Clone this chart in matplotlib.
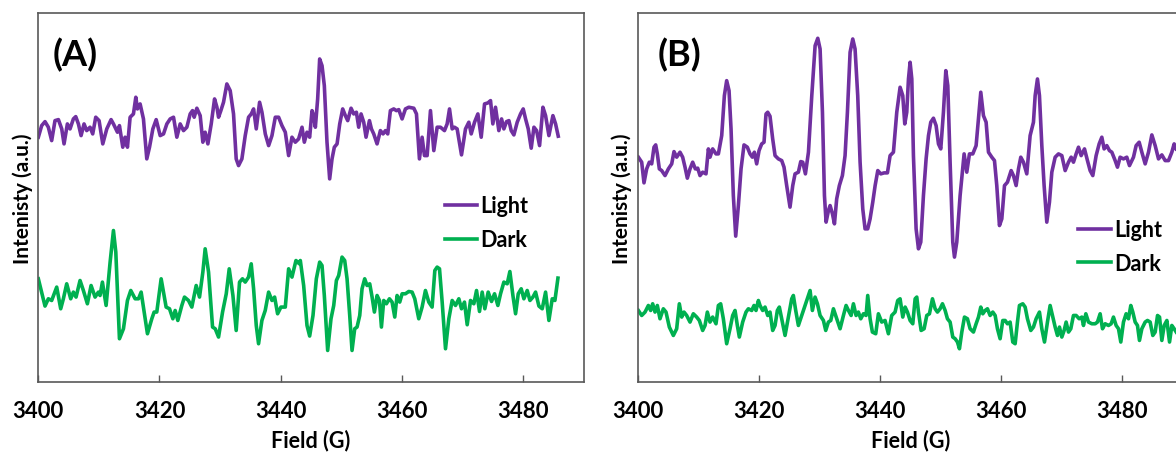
import numpy as np
import matplotlib
matplotlib.use("Agg")
import matplotlib.pyplot as plt

plt.rcParams['font.family'] = ['Lato', 'DejaVu Sans']
plt.rcParams['font.weight'] = 'bold'

# EPR spectra: (field in G, intensity in a.u.)
light_a = [
    (3400.02, 244.7), (3400.57, 256.3), (3401.12, 260.3), (3401.67, 254.7), (3402.22, 241.3), (3402.77, 261.3),
    (3403.33, 262.3), (3403.88, 253.0), (3404.26, 238.0), (3404.81, 258.0), (3405.25, 253.0), (3405.80, 263.0),
    (3406.19, 265.3), (3406.63, 258.0), (3407.07, 246.3), (3407.56, 258.0), (3408.00, 251.3), (3408.55, 254.7),
    (3408.99, 248.0), (3409.49, 264.7), (3410.04, 261.3), (3410.65, 238.0), (3411.31, 253.0), (3412.02, 262.3),
    (3412.41, 258.0), (3413.07, 249.7), (3413.40, 256.3), (3413.95, 234.7), (3414.33, 244.7), (3414.72, 234.7),
    (3415.16, 264.7), (3415.71, 268.0), (3416.10, 284.7), (3416.37, 273.0), (3416.81, 278.0), (3417.36, 263.0),
    (3417.91, 223.0), (3418.36, 234.7), (3418.91, 253.0), (3419.46, 262.3), (3420.12, 246.3), (3420.67, 248.0),
    (3421.22, 258.0), (3421.77, 263.0), (3422.32, 264.7), (3422.87, 244.7), (3423.42, 258.0), (3423.97, 251.3),
    (3424.52, 254.7), (3425.07, 268.0), (3425.46, 271.3), (3425.73, 264.7), (3426.17, 273.7), (3426.72, 266.3),
    (3427.16, 239.7), (3427.54, 249.7), (3427.99, 238.0), (3428.54, 258.0), (3429.09, 283.0), (3429.48, 274.7),
    (3429.75, 264.7), (3430.13, 271.3), (3430.57, 279.7), (3431.12, 298.0), (3431.67, 291.3), (3432.22, 268.0),
    (3432.66, 223.0), (3433.05, 216.3), (3433.60, 223.0), (3434.15, 246.3), (3434.70, 264.7), (3435.15, 268.0),
    (3435.53, 273.0), (3435.97, 253.0), (3436.52, 279.7), (3436.91, 269.7), (3437.46, 248.0), (3438.01, 236.3),
    (3438.56, 246.3), (3439.11, 264.7), (3439.66, 264.7), (3440.21, 256.3), (3440.76, 249.7), (3441.31, 226.3),
    (3441.86, 244.7), (3442.41, 239.7), (3442.96, 243.0),
    (3443.52, 254.7), (3443.90, 239.7), (3444.34, 249.7), (3444.78, 244.7), (3445.17, 271.3), (3445.44, 266.3),
    (3445.72, 254.7), (3446.10, 283.0), (3446.43, 323.0), (3446.82, 316.3), (3447.20, 296.3), (3447.64, 239.7),
    (3448.08, 203.0), (3448.47, 223.0), (3448.85, 234.7), (3449.30, 238.0), (3449.74, 258.0), (3450.23, 273.0),
    (3450.67, 266.3), (3451.06, 261.3), (3451.61, 273.7), (3452.05, 268.0), (3452.49, 269.7), (3452.87, 254.7),
    (3453.26, 268.0), (3453.70, 259.7), (3454.08, 244.7), (3454.64, 261.3), (3454.97, 253.0), (3455.35, 248.0),
    (3455.90, 238.0), (3456.45, 251.3), (3456.89, 248.0), (3457.28, 251.3), (3457.66, 248.0), (3458.10, 271.3),
    (3458.65, 273.0), (3459.09, 271.3), (3459.48, 272.3), (3460.03, 263.0), (3460.58, 273.0), (3461.13, 274.7),
    (3461.96, 273.7), (3462.40, 268.0), (3462.89, 223.0), (3463.33, 244.7), (3463.72, 226.3), (3464.16, 226.3),
    (3464.71, 271.3), (3465.26, 231.3), (3465.81, 254.7), (3466.36, 254.7), (3467.02, 251.3), (3467.46, 258.0),
    (3467.85, 273.0), (3468.29, 253.0), (3468.67, 254.7), (3469.11, 253.0), (3469.83, 227.0), (3470.49, 253.0),
    (3471.04, 259.7), (3471.43, 248.0), (3471.98, 259.7), (3472.53, 268.0), (3473.08, 244.7), (3473.63, 278.0),
    (3474.18, 279.0), (3474.62, 281.3), (3475.00, 258.0), (3475.44, 274.7), (3475.99, 251.3), (3476.44, 263.0),
    (3476.82, 253.0), (3477.26, 260.3), (3477.65, 261.3), (3478.03, 251.3), (3478.47, 247.0), (3479.02, 259.7),
    (3479.57, 268.0), (3480.01, 273.0), (3480.40, 263.0), (3480.84, 253.0), (3481.33, 233.7), (3481.78, 254.7),
    (3482.22, 251.3), (3482.71, 236.3), (3483.26, 274.7), (3483.70, 266.3), (3484.25, 246.3), (3484.91, 266.3),
    (3485.35, 258.0), (3485.79, 245.7),
]

dark_a = [
    (3400.02, 103.0), (3401.12, 75.7), (3401.67, 83.0), (3402.22, 81.3), (3403.05, 94.7), (3403.71, 73.0),
    (3404.15, 83.0), (3404.70, 98.0), (3405.36, 83.0), (3405.80, 89.7), (3406.24, 84.7), (3406.90, 101.3),
    (3407.45, 91.3), (3408.11, 78.0), (3408.72, 96.3), (3409.38, 84.7), (3409.93, 89.7), (3410.20, 86.3),
    (3410.59, 99.7), (3411.20, 76.3), (3411.86, 119.7), (3412.41, 151.3), (3412.80, 129.7), (3413.40, 43.0),
    (3414.06, 53.0), (3414.72, 81.3), (3415.27, 91.3), (3415.99, 83.0), (3416.54, 83.0), (3416.98, 89.7),
    (3418.02, 48.0), (3418.74, 63.0), (3419.12, 69.7), (3419.56, 69.7), (3420.28, 103.0), (3421.10, 74.7),
    (3421.66, 73.0), (3422.21, 63.0), (3422.59, 71.3), (3423.03, 61.3), (3423.69, 76.3), (3424.13, 84.7),
    (3424.79, 81.3), (3425.34, 74.7), (3426.06, 96.3), (3426.61, 84.7), (3427.16, 109.7), (3427.54, 133.0),
    (3428.10, 109.7), (3428.76, 54.7), (3429.20, 53.0), (3429.75, 44.7), (3430.41, 69.7), (3431.02, 88.0),
    (3431.51, 113.0), (3432.12, 86.3), (3432.66, 51.3), (3433.21, 99.7), (3433.70, 103.0), (3434.15, 99.7),
    (3434.70, 104.7), (3435.14, 118.0), (3435.53, 93.0), (3435.97, 56.3), (3436.35, 38.0), (3436.90, 61.3),
    (3437.45, 71.3), (3438.01, 89.7), (3438.56, 81.3), (3439.00, 84.7), (3439.49, 68.0), (3440.04, 74.7),
    (3440.76, 74.7), (3441.31, 113.0), (3441.86, 104.7), (3442.52, 121.3), (3443.07, 118.0),
    (3443.24, 121.3), (3443.79, 96.3), (3444.34, 56.3), (3444.78, 45.7), (3445.33, 66.3), (3445.88, 103.0),
    (3446.43, 119.7), (3446.82, 116.3), (3447.20, 86.3), (3447.75, 31.3), (3448.30, 63.0), (3448.75, 76.3),
    (3449.19, 101.3), (3449.57, 106.3), (3450.12, 124.7), (3450.56, 121.3), (3450.95, 103.0), (3451.39, 66.3),
    (3451.77, 31.3), (3452.21, 53.0), (3452.60, 54.7), (3453.04, 66.3), (3453.42, 93.0), (3453.86, 103.0),
    (3454.25, 96.3), (3454.69, 98.0), (3455.08, 84.7), (3455.46, 69.7), (3455.90, 86.3), (3456.29, 81.3),
    (3456.62, 54.7), (3457.00, 81.3), (3457.44, 78.0), (3457.94, 83.0), (3458.38, 79.7), (3458.82, 64.7),
    (3459.20, 86.3), (3459.64, 79.7), (3460.03, 88.0), (3460.58, 88.0), (3461.13, 90.3), (3461.68, 89.7),
    (3462.12, 83.0), (3462.78, 63.0), (3463.33, 74.7), (3463.88, 91.3), (3464.43, 79.7), (3464.98, 74.7),
    (3465.43, 111.3), (3465.81, 114.7), (3466.20, 113.0), (3466.64, 79.7), (3467.19, 33.0), (3467.74, 63.0),
    (3468.29, 81.3), (3468.84, 76.3), (3469.39, 83.0), (3469.83, 73.0), (3470.32, 79.7), (3470.77, 57.0),
    (3471.32, 81.3), (3471.87, 78.0), (3472.31, 91.3), (3472.80, 70.3), (3473.24, 89.7), (3473.68, 73.0),
    (3474.23, 89.7), (3474.78, 80.3), (3475.28, 88.0), (3475.83, 76.3), (3476.27, 88.0), (3476.82, 99.7),
    (3477.37, 98.0), (3477.81, 110.3), (3478.31, 86.3), (3478.75, 68.0), (3479.19, 88.0), (3479.68, 93.0),
    (3480.12, 83.0), (3480.67, 91.3), (3481.12, 81.3), (3481.61, 84.7), (3482.05, 89.7), (3482.60, 75.7),
    (3483.15, 73.0), (3483.70, 89.7), (3484.25, 61.3), (3484.80, 83.0), (3485.24, 81.3), (3485.74, 103.7),
]

light_b = [
    (3400.14, 224.7), (3400.69, 219.7), (3401.07, 199.0), (3401.51, 213.0), (3401.95, 219.7), (3402.34, 218.0),
    (3402.72, 234.7), (3403.00, 237.0), (3403.27, 228.0), (3403.60, 213.0), (3403.99, 211.3), (3404.54, 206.3),
    (3405.09, 213.0), (3405.64, 218.0), (3406.02, 230.3), (3406.46, 224.7), (3407.01, 229.7), (3407.45, 224.7),
    (3407.84, 214.7), (3408.22, 203.7), (3408.66, 213.0), (3409.10, 219.7), (3409.54, 213.0), (3409.93, 213.7),
    (3410.31, 206.3), (3410.75, 209.7), (3411.30, 208.0), (3411.69, 233.0), (3411.96, 224.7), (3412.40, 233.0),
    (3412.95, 228.0), (3413.34, 228.0), (3413.89, 246.3), (3414.33, 286.3), (3414.71, 301.3), (3415.10, 291.3),
    (3415.43, 253.0), (3415.81, 186.3), (3416.20, 145.7), (3416.64, 176.3), (3417.08, 213.0), (3417.57, 237.0),
    (3418.12, 234.7), (3418.56, 228.0), (3418.95, 224.7), (3419.28, 229.7), (3419.66, 218.0), (3420.05, 231.3),
    (3420.49, 238.0), (3420.87, 239.7), (3421.20, 268.0), (3421.48, 269.7), (3421.86, 265.7), (3422.30, 243.0),
    (3422.69, 226.3), (3423.24, 223.0), (3423.79, 221.3), (3424.17, 214.7), (3424.61, 196.3), (3425.16, 174.7),
    (3425.61, 196.3), (3425.99, 208.0), (3426.54, 209.7), (3426.93, 220.3), (3427.26, 219.7), (3427.70, 208.0),
    (3428.20, 229.7), (3428.75, 286.3), (3429.30, 336.3), (3429.74, 343.7), (3430.12, 333.0), (3430.51, 269.7),
    (3430.84, 186.3), (3431.11, 159.7), (3431.50, 171.3), (3431.77, 176.3), (3432.16, 168.0), (3432.49, 158.0),
    (3432.86, 183.0), (3433.30, 196.3), (3433.80, 206.3), (3434.24, 226.3), (3434.63, 269.7), (3435.07, 329.7),
    (3435.51, 343.0), (3435.89, 333.0), (3436.33, 286.3), (3436.72, 219.7), (3437.16, 173.0), (3437.54, 153.0),
    (3437.98, 153.0), (3438.37, 163.0), (3438.81, 179.7), (3439.20, 196.3), (3439.64, 211.3), (3440.13, 208.0),
    (3440.68, 209.0), (3441.23, 209.0), (3441.67, 226.3), (3442.22, 229.7), (3442.77, 269.7),
    (3443.32, 294.7), (3443.76, 286.3), (3444.09, 258.0), (3444.42, 269.7), (3444.70, 303.0), (3444.97, 319.7),
    (3445.25, 303.0), (3445.52, 226.3), (3445.96, 153.0), (3446.35, 133.0), (3446.73, 139.7), (3447.17, 186.3),
    (3447.61, 223.0), (3448.00, 246.3), (3448.38, 259.7), (3448.82, 263.7), (3449.26, 256.3), (3449.65, 238.0),
    (3450.03, 233.0), (3450.47, 269.7), (3450.86, 311.3), (3451.19, 296.3), (3451.57, 219.7), (3452.01, 139.7),
    (3452.29, 124.7), (3452.67, 139.7), (3453.22, 186.3), (3453.88, 228.0), (3454.32, 209.7), (3454.76, 228.0),
    (3455.31, 228.0), (3455.86, 236.3), (3456.25, 263.0), (3456.63, 289.7), (3457.07, 266.3), (3457.51, 259.7),
    (3457.90, 229.7), (3458.45, 224.7), (3458.89, 221.3), (3459.27, 196.3), (3459.71, 156.3), (3460.10, 163.0),
    (3460.54, 196.3), (3461.03, 199.7), (3461.64, 211.3), (3462.02, 206.3), (3462.46, 196.3), (3462.85, 213.0),
    (3463.23, 224.7), (3463.67, 219.7), (3464.22, 208.0), (3464.77, 246.3), (3465.32, 259.7), (3465.60, 286.3),
    (3465.98, 303.0), (3466.31, 286.3), (3466.70, 236.3), (3467.08, 196.3), (3467.52, 159.7), (3467.96, 179.7),
    (3468.35, 209.7), (3468.90, 224.7), (3469.45, 228.0), (3470.00, 226.3), (3470.55, 211.3), (3471.10, 219.7),
    (3471.54, 224.7), (3471.92, 219.7), (3472.36, 228.0), (3472.75, 234.7), (3473.19, 226.3), (3473.74, 233.0),
    (3474.23, 221.3), (3474.67, 211.3), (3475.11, 206.3), (3475.66, 226.3), (3476.16, 238.0), (3476.60, 244.7),
    (3476.98, 233.0), (3477.42, 236.3), (3477.86, 231.3), (3478.25, 229.7), (3478.80, 221.3), (3479.18, 214.7),
    (3479.62, 224.7), (3480.17, 223.0), (3480.72, 224.7), (3481.16, 216.3), (3481.82, 224.7), (3482.26, 236.3),
    (3482.76, 239.7), (3483.20, 229.7), (3483.75, 218.0), (3484.30, 229.7), (3484.85, 247.0), (3485.40, 236.3),
    (3485.95, 223.0), (3486.50, 227.0), (3487.05, 221.3), (3487.60, 221.3), (3488.15, 229.7), (3488.53, 238.0),
    (3488.87, 233.0),
]

dark_b = [
    (3400.14, 71.3), (3400.69, 66.3), (3401.24, 69.7), (3401.79, 76.3), (3402.17, 71.3), (3402.50, 78.0),
    (3402.89, 69.7), (3403.27, 76.3), (3403.71, 63.0), (3404.26, 73.0), (3404.70, 69.7), (3405.25, 54.7),
    (3405.91, 46.3), (3406.46, 53.0), (3406.90, 78.0), (3407.29, 64.7), (3407.67, 69.7), (3408.11, 66.3),
    (3408.66, 59.7), (3409.21, 68.0), (3409.76, 64.7), (3410.20, 61.3), (3410.75, 51.3), (3411.14, 56.3),
    (3411.52, 69.7), (3411.96, 59.7), (3412.40, 64.7), (3412.95, 58.0), (3413.34, 76.3), (3413.72, 78.0),
    (3414.16, 63.0), (3414.71, 38.0), (3415.26, 53.0), (3415.70, 66.3), (3416.09, 71.3), (3416.47, 56.3),
    (3416.80, 44.7), (3417.35, 59.7), (3417.90, 69.7), (3418.29, 73.0), (3418.84, 71.3), (3419.22, 76.3),
    (3419.55, 71.3), (3419.94, 81.3), (3420.21, 76.3), (3420.65, 71.3), (3421.04, 74.7), (3421.48, 66.3),
    (3421.86, 69.7), (3422.30, 51.3), (3422.69, 56.3), (3423.07, 71.3), (3423.40, 74.7), (3423.79, 63.0),
    (3424.34, 46.3), (3424.89, 64.7), (3425.44, 83.0), (3425.71, 86.3), (3426.10, 71.3), (3426.54, 56.3),
    (3427.09, 66.3), (3427.64, 76.3), (3428.20, 86.3), (3428.47, 91.3), (3428.85, 71.3), (3429.29, 84.7),
    (3429.68, 78.0), (3430.12, 66.3), (3430.67, 61.3), (3431.05, 51.3), (3431.49, 59.7), (3431.88, 61.3),
    (3432.32, 73.0), (3432.87, 63.0), (3433.42, 53.0), (3433.97, 66.3), (3434.41, 76.3), (3434.80, 71.3),
    (3435.24, 66.3), (3435.62, 78.0), (3436.06, 66.3), (3436.44, 69.7), (3436.83, 63.0), (3437.27, 68.0),
    (3437.71, 66.3), (3437.98, 86.3), (3438.37, 63.0), (3438.75, 49.7), (3439.30, 48.0), (3439.74, 68.0),
    (3440.29, 59.7), (3440.84, 61.3), (3441.39, 48.0), (3441.94, 66.3), (3442.49, 69.7), (3442.93, 81.3),
    (3443.32, 83.0), (3443.76, 64.7), (3444.15, 74.7), (3444.53, 69.7), (3444.97, 61.3), (3445.41, 58.0),
    (3445.80, 83.0), (3446.07, 84.7), (3446.35, 69.7), (3446.79, 51.3), (3447.28, 53.0), (3447.72, 66.3),
    (3448.16, 68.0), (3448.66, 83.0), (3449.10, 73.0), (3449.48, 69.7), (3449.92, 73.0), (3450.31, 78.0),
    (3450.75, 71.3), (3451.13, 63.0), (3451.57, 59.7), (3452.01, 44.7), (3452.40, 43.0), (3452.78, 39.7),
    (3453.11, 33.0), (3453.50, 49.7), (3453.94, 64.7), (3454.43, 63.0), (3454.87, 53.0), (3455.42, 49.7),
    (3455.86, 58.0), (3456.25, 64.7), (3456.63, 74.7), (3456.96, 68.0), (3457.35, 71.3), (3457.73, 73.0),
    (3458.17, 66.3), (3458.61, 69.7), (3459.00, 66.3), (3459.38, 53.0), (3459.82, 43.0), (3460.26, 61.3),
    (3460.65, 61.3), (3461.03, 58.0), (3461.47, 59.7), (3461.91, 39.7), (3462.30, 38.0), (3462.68, 59.7),
    (3463.01, 76.3), (3463.56, 78.0), (3463.95, 74.7), (3464.33, 63.0), (3464.88, 51.3), (3465.32, 54.7),
    (3465.76, 63.0), (3466.31, 69.7), (3466.70, 53.0), (3467.14, 39.7), (3467.63, 59.7), (3468.07, 76.3),
    (3468.46, 66.3), (3468.90, 54.7), (3469.28, 46.3), (3469.61, 54.7), (3470.00, 44.7), (3470.38, 51.3),
    (3470.71, 59.7), (3471.10, 49.7), (3471.48, 53.0), (3471.92, 66.3), (3472.36, 66.3), (3472.86, 63.0),
    (3473.30, 64.7), (3473.57, 56.3), (3473.96, 68.0), (3474.40, 59.7), (3474.95, 58.0), (3475.50, 58.0),
    (3475.88, 59.7), (3476.32, 68.0), (3476.71, 53.0), (3477.15, 58.0), (3477.70, 56.3), (3478.14, 58.0),
    (3478.52, 64.7), (3478.96, 56.3), (3479.35, 53.0), (3479.73, 39.7), (3480.17, 59.7), (3480.61, 68.0),
    (3481.00, 63.0), (3481.38, 76.3), (3481.71, 69.7), (3482.10, 59.7), (3482.48, 56.3), (3482.81, 41.3),
    (3483.20, 53.0), (3483.75, 59.7), (3484.13, 61.3), (3484.57, 59.7), (3485.01, 46.3), (3485.40, 49.7),
    (3485.79, 66.3), (3486.12, 64.7), (3486.50, 41.3), (3486.89, 56.3), (3487.33, 61.3), (3487.77, 39.7),
    (3488.15, 56.3), (3488.53, 53.0), (3488.87, 49.7),
]

xticks = [3400, 3420, 3440, 3460, 3480]
PURPLE = '#7030A0'
GREEN = '#00B050'
SPINE = '#595959'

fig = plt.figure(figsize=(11.76, 4.56), dpi=100)
ax_a = fig.add_axes([0.0325, 0.1607, 0.4639, 0.8086])
ax_b = fig.add_axes([0.5421, 0.1607, 0.4639, 0.8086])  # runs off the right edge, like the source


def style_panel(ax, tag, tag_x, legend_xy):
    ax.set_xlim(3400, 3490)
    ax.set_ylim(0, 369)
    ax.set_xticks(xticks)
    ax.set_yticks([])
    ax.tick_params(axis='x', direction='in', length=5, width=1, color=SPINE,
                   pad=13, labelsize=16)
    for s in ax.spines.values():
        s.set_color(SPINE)
        s.set_linewidth(1.2)
    ax.set_xlabel('Field (G)', fontsize=15.5, fontweight='bold', labelpad=6)
    ax.set_ylabel('Intenisty (a.u.)', fontsize=15, fontweight='bold', labelpad=4)
    ax.text(tag_x, 0.89, tag, transform=ax.transAxes, fontsize=26,
            fontweight='bold', va='center', ha='left')
    ax.legend(loc='upper left', bbox_to_anchor=legend_xy, frameon=False,
              fontsize=15.5, handlelength=1.5, handletextpad=0.15,
              labelspacing=0.6, borderpad=0, borderaxespad=0)


for ax, light, dark in [(ax_a, light_a, dark_a), (ax_b, light_b, dark_b)]:
    lx, ly = np.array(light).T
    dx, dy = np.array(dark).T
    ax.plot(lx, ly, color=PURPLE, lw=2.6, solid_joinstyle='round', label='Light')
    ax.plot(dx, dy, color=GREEN, lw=2.6, solid_joinstyle='round', label='Dark')

style_panel(ax_a, '(A)', 0.027, (0.746, 0.506))
style_panel(ax_b, '(B)', 0.037, (0.808, 0.441))

fig.savefig('out.png', dpi=100)
